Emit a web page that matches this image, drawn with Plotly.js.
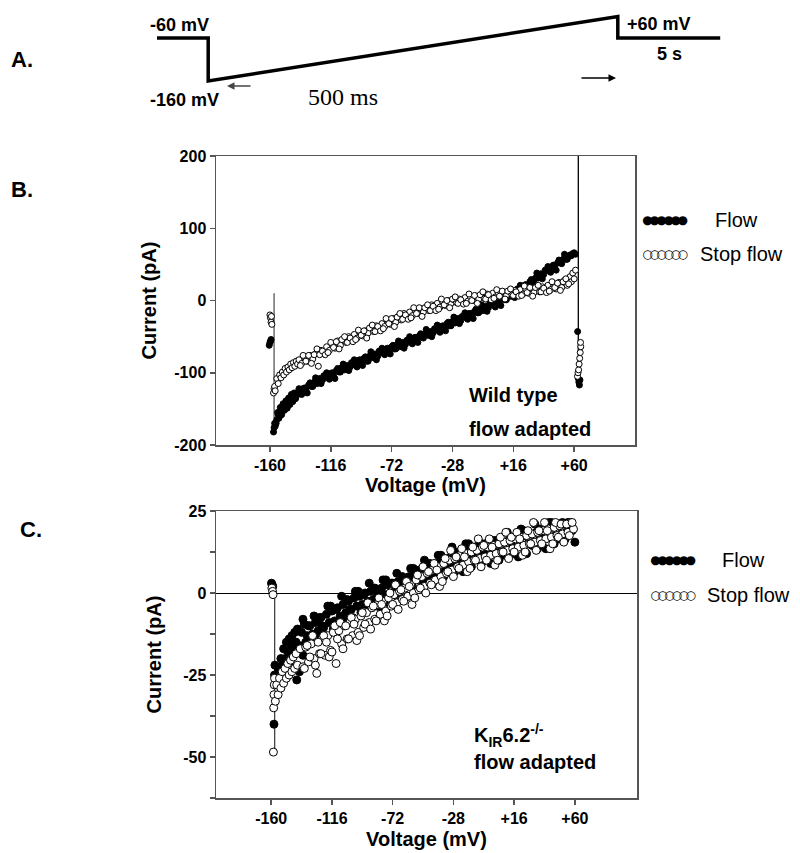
<!DOCTYPE html>
<html>
<head>
<meta charset="utf-8">
<script src="https://cdn.plot.ly/plotly-3.0.1.min.js"></script>
<style>html,body{margin:0;padding:0;background:#fff;}#chart{width:800px;height:853px;}</style>
</head>
<body>
<div id="chart"></div>
<script>
// ---------- Panel A: voltage protocol (schematic sketch units) ----------
const protocolStep  = [0, 1, 1, 9, 9, 11];
const protocolLevel = [0, 0, -1, 0.5, 0, 0];

// ---------- Axis ticks ----------
const xTickVals = [-160, -116, -72, -28, 16, 60];
const xTickText = ['-160', '-116', '-72', '-28', '+16', '+60'];
const bTickVals = [-200, -100, 0, 100, 200];
const bTickText = ['-200', '-100', '0', '100', '200'];
const cTickVals = [-50, -25, 0, 25];
const cTickText = ['-50', '-25', '0', '25'];
const cMinorVals = [-62.5, -37.5, -12.5, 12.5];

// ---------- Panel B: wild type, flow adapted ----------
const bFlowV = [-160.5,-160,-159.5,-159.2, -157.4,-157,-156.6,-156.2,
  -155,-154,-153,-152,-151,-150,-149,-148,-147,-146,
  -145,-144,-143,-142,-141,-140,-138,-136,-134,-132,
  -130,-128,-126,-124,-122,-120,-118,-116,-114,-112,
  -110,-108,-106,-104,-102,-100,-98,-96,-94,-92,
  -90,-88,-86,-84,-82,-80,-78,-76,-74,-72,
  -70,-68,-66,-64,-62,-60,-58,-56,-54,-52,
  -50,-48,-46,-44,-42,-40,-38,-36,-34,-32,
  -30,-28,-26,-24,-22,-20,-18,-16,-14,-12,
  -10,-8,-6,-4,-2,0,2,4,6,8,
  10,12,14,16,18,20,22,24,26,28,
  30,32,34,36,38,40,42,44,46,48,
  50,52,54,56,57,58,59,60,61,
  62.5,63,63.4,63.8,64.2];
const bFlowI = [-62,-58,-56,-54, -182,-176,-170,-174,
  -165,-158,-160,-150,-153,-146,-149,-141,-144,-138,
  -141,-134,-137,-131,-133,-127,-129,-122,-124,-117,
  -119,-113,-115,-108,-110,-104,-107,-101,-104,-97,
  -99,-93,-96,-90,-92,-87,-90,-83,-86,-80,
  -84,-77,-79,-74,-77,-70,-73,-67,-70,-64,
  -67,-61,-64,-58,-61,-55,-58,-52,-54,-49,
  -51,-46,-48,-43,-45,-39,-42,-36,-38,-32,
  -35,-29,-31,-25,-28,-22,-24,-18,-21,-15,
  -17,-11,-14,-8,-10,-5,-7,-1,-3,3,
  1,7,6,11,10,16,15,21,20,26,
  25,31,31,37,36,42,41,47,47,52,
  52,57,57,61,63,62,65,66,64,
  -43,-108,-113,-117,-110];
// interleaved samples of the same flow trace
const bFlowV2 = [-155.5,-154.5,-153.5,-152.5,-151.5,-150.5,-149.5,-148.5,-147.5,-146.5,
  -145.5,-144.5,-143.5,-142.5,-141.5,
  -139,-137,-135,-133,-131,-129,-127,-125,-123,-121,
  -119,-117,-115,-113,-111,-109,-107,-105,-103,-101,
  -99,-97,-95,-93,-91,-89,-87,-85,-83,-81,
  -79,-77,-75,-73,-71,-69,-67,-65,-63,-61,
  -59,-57,-55,-53,-51,-49,-47,-45,-43,-41,
  -39,-37,-35,-33,-31,-29,-27,-25,-23,-21,
  -19,-17,-15,-13,-11,-9,-7,-5,-3,-1,
  1,3,5,7,9,11,13,15,17,19,
  21,23,25,27,29,31,33,35,37,39,
  41,43,45,47,49,51,53,55];
const bFlowI2 = [-170,-155,-163,-148,-158,-143,-152,-139,-149,-135,
  -144,-130,-140,-128,-136,
  -122,-130,-121,-128,-114,-119,-107,-114,-115,-104,
  -100,-109,-100,-108,-94,-99,-88,-95,-97,-86,
  -82,-92,-82,-90,-78,-84,-71,-78,-82,-70,
  -66,-75,-66,-74,-62,-67,-56,-63,-66,-55,
  -50,-60,-51,-58,-46,-52,-40,-48,-50,-39,
  -34,-44,-35,-42,-30,-35,-23,-30,-32,-22,
  -17,-26,-18,-25,-12,-17,-6,-13,-15,-4,
  0,-9,0,-7,6,1,13,6,4,16,
  21,13,22,16,29,25,38,32,30,42,
  47,39,49,42,56,51,64,57];

const bStopV = [-160,-159.6,-159.2,-158.9,-158.6, -157.4,-157,-156.6,-156.2,
  -155,-154,-153,-152,-151,-150,-149,-148,-147,-146,
  -145,-144,-143,-142,-141,-140,-139,-137,-135,-133,
  -131,-129,-127,-125,-123,-121,-119,-117,-115,-113,
  -111,-109,-107,-105,-103,-101,-99,-97,-95,-93,
  -91,-89,-87,-85,-83,-81,-79,-77,-75,-73,
  -71,-69,-67,-65,-63,-61,-59,-57,-55,-53,
  -51,-49,-47,-45,-43,-41,-39,-37,-35,-33,
  -31,-29,-27,-25,-23,-21,-19,-17,-15,-13,
  -11,-9,-7,-5,-3,-1,1,3,5,7,
  9,11,13,15,17,19,21,23,25,27,
  29,31,33,35,37,39,41,43,45,47,
  49,51,53,55,57,58,59,60,61,
  62.4,62.8,63.2,63.6,64,64.4,64.8,64.6];
const bStopI = [-20,-24,-30,-22,-33, -128,-122,-119,-125,
  -108,-115,-103,-107,-99,-103,-94,-99,-92,-96,
  -88,-93,-86,-91,-84,-88,-82,-87,-79,-84,
  -76,-81,-74,-91,-69,-74,-64,-69,-60,-66,
  -56,-62,-53,-58,-50,-55,-47,-52,-44,-49,
  -42,-45,-38,-43,-35,-39,-32,-36,-28,-33,
  -25,-30,-22,-27,-18,-23,-16,-21,-13,-18,
  -11,-16,-9,-14,-6,-11,-4,-9,-2,-7,
  0,-4,1,-3,2,-2,4,-1,5,0,
  6,2,8,3,9,4,10,5,11,6,
  12,7,13,8,14,8,15,9,16,10,
  17,11,18,12,19,13,21,15,23,16,
  25,18,28,21,33,26,38,30,42,
  -105,-100,-96,-88,-80,-72,-64,-58];
// interleaved samples of the same stop-flow trace
const bStopV2 = [-138,-136,-134,-132,-130,-128,-126,-124,-122,-120,
  -118,-116,-114,-112,-110,-108,-106,-104,-102,-100,
  -98,-96,-94,-92,-90,-88,-86,-84,-82,-80,
  -78,-76,-74,-72,-70,-68,-66,-64,-62,-60,
  -58,-56,-54,-52,-50,-48,-46,-44,-42,-40,
  -38,-36,-34,-32,-30,-28,-26,-24,-22,-20,
  -18,-16,-14,-12,-10,-8,-6,-4,-2,0,
  2,4,6,8,10,12,14,16,18,20,
  22,24,26,28,30,32,34,36,38,40,
  42,44,46,48,50,52,54,56];
const bStopI2 = [-90,-76,-84,-76,-87,-75,-67,-75,-70,-75,
  -72,-58,-65,-57,-67,-54,-50,-58,-52,-57,
  -54,-41,-48,-42,-52,-38,-34,-43,-36,-42,
  -39,-25,-32,-25,-36,-23,-18,-26,-20,-26,
  -24,-10,-18,-10,-22,-10,-6,-14,-8,-14,
  -12,2,-6,0,-10,2,5,-4,1,-5,
  -4,9,0,7,-4,8,12,2,8,1,
  3,15,6,13,2,13,16,7,12,6,
  7,20,11,18,6,18,21,12,17,11,
  13,26,18,24,14,26,30,23];

const bLeftLineV = [-157, -157];
const bLeftLineI = [10, -180];
const bRightLineV = [63, 63];
const bRightLineI = [200, -117];

// ---------- Panel C: KIR6.2-/-, flow adapted ----------
const cFlowV = [-159.8,-159.3,-158.9, -158,-157.6,-157.3,
  -156,-155,-154,-153,-152,-151,-150,-149,-148,-147,
  -146,-145,-144,-143,-142,-141,-140,-138,-136,-134,
  -132,-130,-128,-126,-124,-122,-120,-118,-116,-114,
  -112,-110,-108,-106,-104,-102,-100,-98,-96,-94,
  -92,-90,-88,-86,-84,-82,-80,-78,-76,-74,
  -72,-70,-68,-66,-64,-62,-60,-58,-56,-54,
  -52,-50,-48,-46,-44,-42,-40,-38,-36,-34,
  -32,-30,-28,-26,-24,-22,-20,-18,-16,-14,
  -12,-10,-8,-6,-4,-2,0,2,4,6,
  8,10,12,14,16,18,20,22,24,26,
  28,30,32,34,36,38,40,42,44,46,
  48,50,52,54,56,58,60,
  -150.5,-146.5,-141.5,-139.5,-137];
const cFlowI = [3,2.5,2, -40,-25,-22,
  -27,-23,-25,-20,-22,-17,-20,-15,-18,-14,
  -17,-13,-16,-12,-15,-11,-16,-12,-9.5,-13,
  -10,-12.5,-9,-11.5,-7.5,-10.5,-6.5,-9,-5.5,-8.5,
  -4.5,-7,-3.5,-6,-2.5,-5,-1.5,-4,-1,-3.5,
  0,-2.5,0.5,-2,1,-1,1.5,-0.5,2.5,0,
  3,1,3.5,1.5,4.5,2,5,3,6,4,
  7,4.5,7.5,5.5,8.5,6,9,7,10,7.5,
  10.5,8.5,11,9,12,9.5,12.5,10.5,13,11,
  14,11.5,14,11.5,14.5,12,15,12.5,15.5,12.5,
  15.5,13,16,13.5,16.5,14,17,14.5,17.5,15,
  18,15.5,18.5,16,19,16.5,19.5,17,20,17.5,
  20.5,18,21,18.5,21.5,19,15.5,
  -23,-21,-26.5,-24,-19];
// interleaved samples of the same flow trace
const cFlowV2 = [-137,-135,-133,-131,-129,-127,-125,-123,-121,-119,
  -117,-115,-113,-111,-109,-107,-105,-103,-101,-99,
  -97,-95,-93,-91,-89,-87,-85,-83,-81,-79,
  -77,-75,-73,-71,-69,-67,-65,-63,-61,-59,
  -57,-55,-53,-51,-49,-47,-45,-43,-41,-39,
  -37,-35,-33,-31,-29,-27,-25,-23,-21,-19,
  -17,-15,-13,-11,-9,-7,-5,-3,-1,1,
  3,5,7,9,11,13,15,17,19,21,
  23,25,27,29,31,33,35,37,39,41,
  43,45,47,49,51,53,55,57];
const cFlowI2 = [-8,-15,-10,-13.5,-7,-13.5,-7.5,-10,-13,-4,
  -4,-11,-5,-8.5,-1,-8.5,-2,-5,-7.5,0.5,
  0.5,-6,-0.5,-3.5,3,-4,1.5,-1,-4.5,4,
  4,-3,3,-0.5,6,-1,5,2,-1,7.5,
  7.5,1,7,3.5,10,3,9,6,3,11.5,
  11.5,5,10.5,7,14,6.5,12.5,10,6.5,15,
  15,8,14,10.5,15.5,9.5,15,12,9,16,
  16,10,15.5,11.5,18.5,11.5,17,14,11,19.5,
  19,12,18,14.5,21,13.5,19.5,17,13.5,21.5,
  21.5,15,20.5,16.5,21.5,16.5,21.5,19.5];

const cStopV = [-159.5,-159,-158.7, -158.4,-158.2,-158,-157.8,-157.6,
  -157,-156,-155,-154,-153,-152,-151,-150,-149,-148,
  -147,-146,-145,-144,-143,-142,-141,-139,-137,-135,
  -133,-131,-129,-127,-125,-123,-121,-119,-117,-115,
  -113,-111,-109,-107,-105,-103,-101,-99,-97,-95,
  -93,-91,-89,-87,-85,-83,-81,-79,-77,-75,
  -73,-71,-69,-67,-65,-63,-61,-59,-57,-55,
  -53,-51,-49,-47,-45,-43,-41,-39,-37,-35,
  -33,-31,-29,-27,-25,-23,-21,-19,-17,-15,
  -13,-11,-9,-7,-5,-3,-1,1,3,5,
  7,9,11,13,15,17,19,21,23,25,
  27,29,31,33,35,37,39,41,43,45,
  47,49,51,53,55,57,59];
const cStopI = [1.5,0.5,-0.5, -48.5,-35,-31,-28,-26,
  -33,-28,-31,-26,-29,-24,-27.5,-23,-26,-21.5,
  -25,-20.5,-24,-19.5,-23,-18.5,-22,-17,-22.5,-16.5,
  -21,-15.5,-20,-24.5,-18.5,-14,-19,-13,-17.5,-12,
  -21.5,-11.5,-15.5,-10,-14,-9,-13,-8,-12,-7,
  -10.5,-6,-9,-4.5,-8,-3.5,-6.5,-2.5,-5.5,-1.5,
  -4,-0.5,-3,0.5,-2,1.5,-1,2.5,0,4,
  1,5,2,6,3,7,4,8,5,9,
  6,10,7,10.5,8,11.5,8.5,12,9.5,12.5,
  10,13,10.5,14,11,14,11.5,14.5,12,15,
  12.5,15.5,13,16,13.5,16.5,14,17,14.5,17.5,
  15,18,15.5,18.5,16,19,16.5,19.5,17,20,
  17.5,20.5,18,21,18.5,21.5,19.5];
// interleaved samples of the same stop-flow trace
const cStopV2 = [-136,-134,-132,-130,-128,-126,-124,-122,-120,-118,
  -116,-114,-112,-110,-108,-106,-104,-102,-100,-98,
  -96,-94,-92,-90,-88,-86,-84,-82,-80,-78,
  -76,-74,-72,-70,-68,-66,-64,-62,-60,-58,
  -56,-54,-52,-50,-48,-46,-44,-42,-40,-38,
  -36,-34,-32,-30,-28,-26,-24,-22,-20,-18,
  -16,-14,-12,-10,-8,-6,-4,-2,0,2,
  4,6,8,10,12,14,16,18,20,22,
  24,26,28,30,32,34,36,38,40,42,
  44,46,48,50,52,54,56,58];
const cStopI2 = [-23,-16,-19.5,-13,-22,-15,-18.5,-13,-15,-19.5,
  -18,-10,-14,-9,-17,-10,-14,-7.5,-9.5,-14.5,
  -13,-6,-9.5,-3,-11,-4,-8.5,-1.5,-3.5,-8.5,
  -7,0,-3.5,2.5,-5,1,-2.5,3.5,2,-3.5,
  -1.5,5.5,1.5,8,0,6.5,2.5,9,7,2,
  3.5,10.5,6.5,13,5,11,7.5,13.5,11,6.5,
  7.5,14,10,16.5,8,14.5,10,16.5,14,8.5,
  10,17,12.5,18.5,10.5,17,12.5,18.5,16.5,11.5,
  12.5,19,15,21.5,13,19,15,21.5,19,13.5,
  15,21.5,17,21,15.5,21,17.5,21.5];

const cLineV = [-157.5, -157.5];
const cLineI = [0, -48.5];

// ---------- drawing ----------
const F = 'Liberation Sans, Arial, sans-serif';
const W = 800, H = 853;
const px = x => x / W;
const py = y => 1 - y / H;

const traces = [
  {x: protocolStep, y: protocolLevel, xaxis: 'x3', yaxis: 'y3', mode: 'lines',
   line: {color: '#000', width: 3.5}, hoverinfo: 'skip'},
  {x: bLeftLineV, y: bLeftLineI, xaxis: 'x', yaxis: 'y', mode: 'lines', line: {color: '#555', width: 1.3}},
  {x: bRightLineV, y: bRightLineI, xaxis: 'x', yaxis: 'y', mode: 'lines', line: {color: '#000', width: 1.3}},
  {name: 'Flow', x: bFlowV.concat(bFlowV2), y: bFlowI.concat(bFlowI2), xaxis: 'x', yaxis: 'y', mode: 'markers',
   marker: {symbol: 'circle', size: 6, color: '#000', line: {color: '#000', width: 1}}},
  {name: 'Stop flow', x: bStopV.concat(bStopV2), y: bStopI.concat(bStopI2), xaxis: 'x', yaxis: 'y', mode: 'markers',
   marker: {symbol: 'circle', size: 6, color: '#fff', line: {color: '#000', width: 1}}},
  {x: cLineV, y: cLineI, xaxis: 'x2', yaxis: 'y2', mode: 'lines', line: {color: '#444', width: 1.3}},
  {name: 'Flow', x: cFlowV.concat(cFlowV2), y: cFlowI.concat(cFlowI2), xaxis: 'x2', yaxis: 'y2', mode: 'markers',
   marker: {symbol: 'circle', size: 8, color: '#000', line: {color: '#000', width: 1}}},
  {name: 'Stop flow', x: cStopV.concat(cStopV2), y: cStopI.concat(cStopI2), xaxis: 'x2', yaxis: 'y2', mode: 'markers',
   marker: {symbol: 'circle', size: 8, color: '#fff', line: {color: '#000', width: 1}}}
];

const tickFont = {family: F, size: 16, color: '#000', weight: 'bold'};
const titleFont = {family: F, size: 20, color: '#000', weight: 'bold'};
const axBase = {showline: true, linecolor: '#555', linewidth: 1.5, mirror: true,
  ticks: 'outside', ticklen: 5, tickwidth: 1.5, tickcolor: '#555',
  showgrid: false, zeroline: false, tickfont: tickFont, fixedrange: true};

function ann(text, x, y, extra) {
  return Object.assign({text: text, xref: 'paper', yref: 'paper', x: px(x), y: py(y),
    showarrow: false, xanchor: 'center', yanchor: 'middle',
    font: {family: F, size: 18, color: '#000', weight: 'bold'}}, extra || {});
}
const legFont = {family: F, size: 20, color: '#000'};
const dotFont = {family: 'DejaVu Sans', size: 12, color: '#000'};

const annotations = [
  ann('A.', 22, 60, {font: {family: F, size: 22, color: '#000', weight: 'bold'}}),
  ann('B.', 22, 190, {font: {family: F, size: 22, color: '#000', weight: 'bold'}}),
  ann('C.', 31, 529, {font: {family: F, size: 22, color: '#000', weight: 'bold'}}),
  ann('-60 mV', 179, 25),
  ann('-160 mV', 184, 100),
  ann('+60 mV', 659, 24),
  ann('5 s', 669, 54),
  ann('500 ms', 343, 97, {font: {family: 'Liberation Serif, Times New Roman, serif', size: 24, color: '#000'}}),
  {text: '', xref: 'paper', yref: 'paper', x: px(227), y: py(86), ax: 25, ay: 0,
   showarrow: true, arrowhead: 2, arrowsize: 1, arrowwidth: 1.5, arrowcolor: '#444'},
  {text: '', xref: 'paper', yref: 'paper', x: px(616), y: py(78), ax: -36, ay: 0,
   showarrow: true, arrowhead: 2, arrowsize: 1, arrowwidth: 1.5, arrowcolor: '#000'},
  // panel B legend and labels
  ann('●●●●●●', 663, 220, {font: dotFont}),
  ann('Flow', 713, 220, {xanchor: 'left', font: legFont}),
  ann('○○○○○○', 663, 254, {font: dotFont}),
  ann('Stop flow', 698, 254, {xanchor: 'left', font: legFont}),
  ann('Wild type', 467, 395, {xanchor: 'left', font: titleFont}),
  ann('flow adapted', 467, 429, {xanchor: 'left', font: titleFont}),
  // panel C legend and labels
  ann('●●●●●●', 671, 560, {font: dotFont}),
  ann('Flow', 720, 560, {xanchor: 'left', font: legFont}),
  ann('○○○○○○', 671, 595, {font: dotFont}),
  ann('Stop flow', 705, 595, {xanchor: 'left', font: legFont}),
  ann('K<sub>IR</sub>6.2<sup>-/-</sup>', 472, 735, {xanchor: 'left', font: titleFont}),
  ann('flow adapted', 472, 762, {xanchor: 'left', font: titleFont})
];

const layout = {
  width: W, height: H, margin: {l: 0, r: 0, t: 0, b: 0},
  paper_bgcolor: '#fff', plot_bgcolor: 'rgba(0,0,0,0)', showlegend: false,
  xaxis: Object.assign({}, axBase, {domain: [px(216), px(635)], anchor: 'y', range: [-199, 104],
    tickmode: 'array', tickvals: xTickVals, ticktext: xTickText,
    title: {text: 'Voltage (mV)', font: titleFont, standoff: 4}}),
  yaxis: Object.assign({}, axBase, {domain: [py(445), py(156)], anchor: 'x', range: [-200, 200],
    tickmode: 'array', tickvals: bTickVals, ticktext: bTickText,
    title: {text: 'Current (pA)', font: titleFont, standoff: 12}}),
  xaxis2: Object.assign({}, axBase, {domain: [px(216), px(637)], anchor: 'y2', range: [-200, 105],
    tickmode: 'array', tickvals: xTickVals, ticktext: xTickText,
    title: {text: 'Voltage (mV)', font: titleFont, standoff: 6}}),
  yaxis2: Object.assign({}, axBase, {domain: [py(798), py(511)], anchor: 'x2', range: [-62.5, 25],
    tickmode: 'array', tickvals: cTickVals, ticktext: cTickText,
    minor: {tickvals: cMinorVals, ticks: 'outside', ticklen: 5, tickwidth: 1.5, tickcolor: '#555'},
    zeroline: true, zerolinecolor: '#000', zerolinewidth: 1,
    title: {text: 'Current (pA)', font: titleFont, standoff: 16}}),
  xaxis3: {domain: [0, 1], anchor: 'y3', range: [-157 / 51.2, (800 - 157) / 51.2], visible: false, fixedrange: true},
  yaxis3: {domain: [py(120), 1], anchor: 'x3', range: [-1.907, 0.884], visible: false, fixedrange: true},
  annotations: annotations
};

Plotly.newPlot('chart', traces, layout, {staticPlot: true, displayModeBar: false}).then(function () {
  // tighten the legend sample glyphs so the six circles touch, as in the original
  document.querySelectorAll('.annotation-text').forEach(function (t) {
    if (/[●○]/.test(t.textContent)) t.setAttribute('letter-spacing', '-3.4px');
  });
});
</script>
</body>
</html>
